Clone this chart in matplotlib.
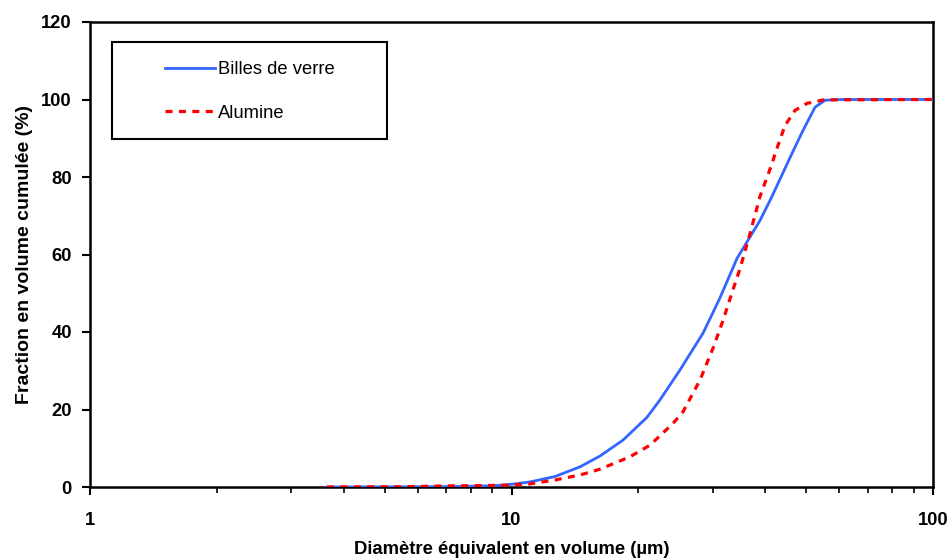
import matplotlib
matplotlib.use("Agg")
import matplotlib.pyplot as plt
from matplotlib.patches import Rectangle
from matplotlib.ticker import LogLocator, FixedLocator, NullFormatter, FixedFormatter

# Cumulative volume fraction vs equivalent volume diameter
billes_d = [3.65, 5.44, 7.15, 9.0, 10.0, 11.06, 12.68, 14.54, 16.22, 18.39, 20.97,
            22.51, 25.1, 28.47, 31.2, 34.28, 38.87, 41.5, 45.79, 49.15, 52.5,
            55.42, 60.0, 100.0]
billes_f = [0.0, 0.05, 0.1, 0.3, 0.7, 1.3, 2.7, 5.2, 8.0, 12.1, 18.0,
            22.5, 30.2, 39.7, 48.7, 59.0, 68.8, 75.0, 85.0, 92.0, 98.0,
            99.8, 100.0, 100.0]

alumine_d = [3.65, 5.44, 7.15, 9.0, 10.0, 11.06, 12.68, 14.54, 16.22, 19.1, 21.31,
             24.16, 25.52, 28.0, 30.06, 31.76, 33.55, 34.86, 36.8, 38.87, 40.4,
             41.5, 42.2, 44.56, 47.07, 50.24, 55.0, 100.0]
alumine_f = [0.0, 0.05, 0.3, 0.4, 0.5, 0.8, 1.8, 3.1, 4.6, 7.8, 10.8,
             16.4, 19.4, 27.6, 35.8, 43.0, 51.0, 56.4, 65.4, 75.0, 80.0,
             83.4, 86.0, 93.3, 97.2, 99.0, 99.9, 100.0]

x_ticks = [1, 10, 100]
x_tick_labels = ["1", "10", "100"]
y_ticks = [0, 20, 40, 60, 80, 100, 120]

plt.rcParams['font.family'] = ['Liberation Sans', 'DejaVu Sans']

W, H = 951, 559
fig = plt.figure(figsize=(W / 100, H / 100), dpi=100)
ax = fig.add_axes([90 / W, 1 - 487 / H, (933 - 90) / W, (487 - 22) / H])

ax.plot(billes_d, billes_f, color="#3366ff", lw=2.0, label="Billes de verre", zorder=3)
ax.plot(alumine_d, alumine_f, color="#ff0000", lw=2.3, ls=(0, (2.2, 2.0)),
        label="Alumine", zorder=4)

ax.set_xscale("log")
ax.set_xlim(1, 100)
ax.set_ylim(0, 120)

ax.xaxis.set_major_locator(FixedLocator(x_ticks))
ax.xaxis.set_major_formatter(FixedFormatter(x_tick_labels))
ax.xaxis.set_minor_locator(LogLocator(base=10, subs=range(2, 10)))
ax.xaxis.set_minor_formatter(NullFormatter())
ax.set_yticks(y_ticks)

for s in ax.spines.values():
    s.set_linewidth(1.8)
    s.set_color("black")

ax.tick_params(axis="both", which="major", direction="out", length=6, width=1.5,
               labelsize=13.2)
ax.tick_params(axis="x", which="minor", direction="out", length=4, width=1.2)
ax.tick_params(axis="x", which="major", pad=12)
ax.tick_params(axis="y", which="major", pad=7)
for lbl in ax.get_xticklabels() + ax.get_yticklabels():
    lbl.set_fontweight("bold")

ax.set_xlabel("Diamètre équivalent en volume (µm)", fontsize=13.3, fontweight="bold",
              labelpad=9)
ax.set_ylabel("Fraction en volume cumulée (%)", fontsize=14.0, fontweight="bold",
              labelpad=6)


def to_axes(px, py):
    return (px - 90) / (933 - 90), (487 - py) / (487 - 22)


# Legend frame
x0, y0 = to_axes(112, 139)
x1, y1 = to_axes(387, 42)
ax.add_patch(Rectangle((x0, y0), x1 - x0, y1 - y0, transform=ax.transAxes,
                       facecolor="white", edgecolor="black", lw=1.5, zorder=5))

lx, ly = to_axes(165, 91.5)
leg = ax.legend(loc="center left", bbox_to_anchor=(lx, ly), fontsize=13.2,
                frameon=False, borderpad=0, borderaxespad=0,
                handlelength=2.75, handletextpad=0.12, labelspacing=1.45)
leg.set_zorder(6)

fig.savefig("out.png", dpi=100)
